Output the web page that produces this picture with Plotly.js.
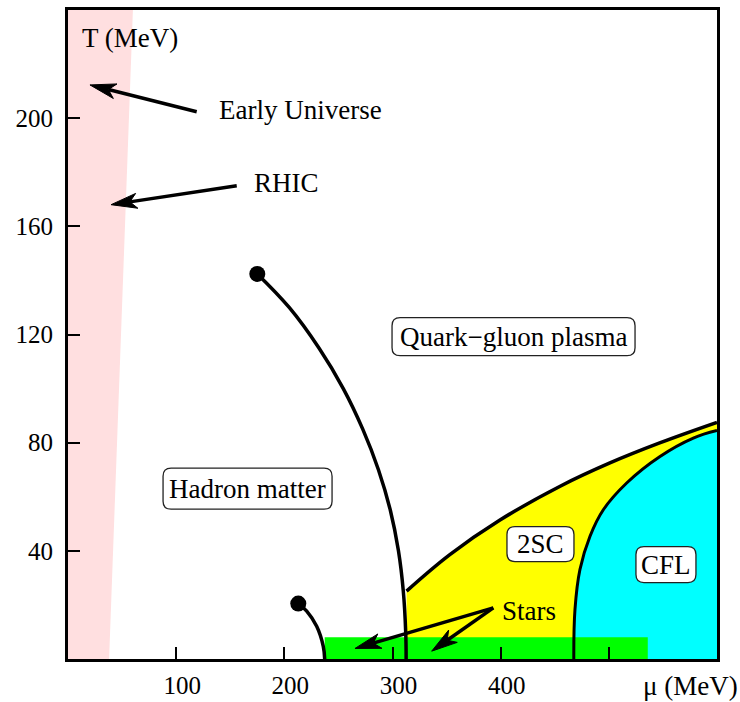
<!DOCTYPE html>
<html>
<head>
<meta charset="utf-8">
<script src="https://cdn.plot.ly/plotly-3.0.1.min.js"></script>
<style>html,body{margin:0;padding:0;background:#fff}</style>
</head>
<body>
<div id="chart" style="width:740px;height:702px"></div>
<script>
// QCD phase diagram: chemical potential mu (MeV) vs temperature T (MeV)

// Hadron / quark-gluon boundary ending in a critical point
const hadronLineMu = [175.0, 204.5, 232.0, 254.5, 272.5, 287.0, 298.0, 305.5, 310.0, 312.2, 312.6];
const hadronLineT  = [142.4, 130, 115, 100, 85, 70, 55, 40, 25, 10, 0];
// Nuclear liquid-gas line
const nuclearLineMu = [212.9, 220.7, 229.9, 236.0, 237.3];
const nuclearLineT  = [20.5, 17.7, 12.1, 4.7, 0];
// Upper edge of the colour-superconducting (2SC) phase
const scLineMu = [313, 353, 399, 455, 501, 547, 600];
const scLineT  = [25.1, 38.6, 51.3, 63.9, 72.5, 79.9, 87.5];
// 2SC / CFL boundary
const cflLineMu = [467.6, 468.7, 473.3, 482.6, 494.9, 516.5, 547.3, 578.1, 600];
const cflLineT  = [0, 18.3, 33.1, 45.4, 55.2, 65.1, 74.9, 81.7, 84.5];
// Critical end points
const criticalMu = [175.0, 212.9];
const criticalT  = [142.4, 20.5];
// Heavy-ion / early-universe band and compact-star band
const heavyIonMu = [0, 38, 60, 0];
const heavyIonT  = [0, 0, 240, 240];
const starsMu = [237.3, 536, 536, 237.3];
const starsT  = [0, 0, 8, 8];

// Region labels
const regionNames = ['Hadron matter', 'Quark\u2212gluon plasma', '2SC', 'CFL'];
const regionMu = [166.0, 411.9, 436.8, 552.8];
const regionT  = [63.0, 119.2, 42.5, 34.9];

// Pointer labels and arrows
const pointerNames = ['Early Universe', 'RHIC', 'Stars'];
const pointerMu = [137.5, 169.8, 399.4];
const pointerT  = [203.0, 176.0, 17.7];
const arrowTailMu = [119.0, 156.0, 393.2, 393.2];
const arrowTailT  = [202.4, 175.0, 18.9, 18.9];
const arrowTipMu  = [20.3, 39.8, 265.3, 336.2];
const arrowTipT   = [212.3, 168.0, 3.9, 2.9];

// Axis ticks
const xTickVals = [100, 200, 300, 400, 500];
const xTickText = ['100', '200', '300', '400', ''];
const yTickVals = [40, 80, 120, 160, 200];
const yTickText = ['40', '80', '120', '160', '200'];

// ---- layout constants ----
const W = 740, H = 702;
const M = {l: 68, r: 23, t: 10, b: 43};
const X_RANGE = [0, 600], Y_RANGE = [0, 240];
const FONT = 'Liberation Serif';
const pxPerMu = (W - M.l - M.r) / (X_RANGE[1] - X_RANGE[0]);
const pxPerT  = (H - M.t - M.b) / (Y_RANGE[1] - Y_RANGE[0]);
const boxSize = [[169, 41], [243, 38], [67, 35], [60, 36]];
const boxRadius = 8;

function roundedRectPath(w, h, r) {
  const a = w / 2, b = h / 2;
  return `M${-a + r},${-b} L${a - r},${-b} Q${a},${-b} ${a},${-b + r} ` +
         `L${a},${b - r} Q${a},${b} ${a - r},${b} L${-a + r},${b} ` +
         `Q${-a},${b} ${-a},${b - r} L${-a},${-b + r} Q${-a},${-b} ${-a + r},${-b} Z`;
}

// Arrow = shaft line + notched head, head sized in pixels
function arrowShapes(tail, tip) {
  const dx = (tip[0] - tail[0]) * pxPerMu, dy = (tip[1] - tail[1]) * pxPerT;
  const len = Math.hypot(dx, dy);
  const ux = dx / len, uy = dy / len, nx = -uy, ny = ux;
  const L = 26, HW = 7.5, N = 7;
  const toData = (px, py) => [tip[0] + px / pxPerMu, tip[1] + py / pxPerT];
  const b1 = toData(-L * ux + HW * nx, -L * uy + HW * ny);
  const b2 = toData(-L * ux - HW * nx, -L * uy - HW * ny);
  const nk = toData(-(L - N) * ux, -(L - N) * uy);
  return [
    {type: 'line', xref: 'x', yref: 'y', x0: tail[0], y0: tail[1], x1: nk[0], y1: nk[1],
     line: {color: 'black', width: 3.5}},
    {type: 'path', xref: 'x', yref: 'y',
     path: `M${tip[0]},${tip[1]} L${b1[0]},${b1[1]} L${nk[0]},${nk[1]} L${b2[0]},${b2[1]} Z`,
     fillcolor: 'black', line: {color: 'black', width: 1}}
  ];
}

const base = {type: 'scatter', mode: 'lines', hoverinfo: 'skip', showlegend: false};
const curve = {shape: 'spline', smoothing: 1.1};
const traces = [
  Object.assign({}, base, {x: heavyIonMu, y: heavyIonT, fill: 'toself',
    fillcolor: '#ffdfe0', line: {width: 0}}),
  Object.assign({}, base, {x: scLineMu, y: scLineT, fill: 'tozeroy',
    fillcolor: '#ffff00', line: Object.assign({width: 0}, curve)}),
  Object.assign({}, base, {x: cflLineMu, y: cflLineT, fill: 'tozeroy',
    fillcolor: '#00ffff', line: Object.assign({width: 0}, curve)}),
  Object.assign({}, base, {x: starsMu, y: starsT, fill: 'toself',
    fillcolor: '#00ff00', line: {width: 0}}),
  Object.assign({}, base, {x: hadronLineMu, y: hadronLineT,
    line: Object.assign({color: 'black', width: 3.5}, curve)}),
  Object.assign({}, base, {x: nuclearLineMu, y: nuclearLineT,
    line: Object.assign({color: 'black', width: 3.5}, curve)}),
  Object.assign({}, base, {x: scLineMu, y: scLineT,
    line: Object.assign({color: 'black', width: 3.5}, curve)}),
  Object.assign({}, base, {x: cflLineMu, y: cflLineT,
    line: Object.assign({color: 'black', width: 3}, curve)}),
  Object.assign({}, base, {x: criticalMu, y: criticalT, mode: 'markers',
    marker: {color: 'black', size: 16}})
];

const shapes = [];
regionNames.forEach((_, i) => {
  shapes.push({type: 'path', xref: 'x', yref: 'y', xsizemode: 'pixel', ysizemode: 'pixel',
    xanchor: regionMu[i], yanchor: regionT[i],
    path: roundedRectPath(boxSize[i][0], boxSize[i][1], boxRadius),
    fillcolor: 'white', line: {color: '#222', width: 1.3}});
});
arrowTailMu.forEach((_, i) => {
  shapes.push(...arrowShapes([arrowTailMu[i], arrowTailT[i]], [arrowTipMu[i], arrowTipT[i]]));
});

const textFont = {family: FONT, size: 27, color: 'black'};
const annotations = [];
regionNames.forEach((name, i) => {
  annotations.push({x: regionMu[i], y: regionT[i], xref: 'x', yref: 'y', text: name,
    showarrow: false, xanchor: 'center', yanchor: 'middle', font: textFont});
});
pointerNames.forEach((name, i) => {
  annotations.push({x: pointerMu[i], y: pointerT[i], xref: 'x', yref: 'y', text: name,
    showarrow: false, xanchor: 'left', yanchor: 'middle', font: textFont});
});
annotations.push({x: 11, y: 229.6, xref: 'x', yref: 'y', text: 'T (MeV)',
  showarrow: false, xanchor: 'left', yanchor: 'middle', font: textFont});
annotations.push({x: 529.7, y: -0.042, xref: 'x', yref: 'paper', text: '\u03bc (MeV)',
  showarrow: false, xanchor: 'left', yanchor: 'middle', font: textFont});

const axisCommon = {
  showgrid: false, zeroline: false, showline: true, mirror: true,
  linecolor: 'black', linewidth: 3, ticks: 'inside', ticklen: 12, tickwidth: 2,
  tickcolor: 'black', tickmode: 'array', tickfont: {family: FONT, size: 25, color: 'black'},
  fixedrange: true
};

const layout = {
  width: W, height: H, margin: M,
  font: {family: FONT},
  paper_bgcolor: 'white', plot_bgcolor: 'white',
  showlegend: false, hovermode: false,
  xaxis: Object.assign({}, axisCommon, {range: X_RANGE, tickvals: xTickVals, ticktext: xTickText,
    ticklabelstandoff: 2, ticklabelshift: 6}),
  yaxis: Object.assign({}, axisCommon, {range: Y_RANGE, tickvals: yTickVals, ticktext: yTickText,
    ticklabelstandoff: 7}),
  shapes: shapes,
  annotations: annotations
};

Plotly.newPlot('chart', traces, layout, {displayModeBar: false, staticPlot: true});
</script>
</body>
</html>
